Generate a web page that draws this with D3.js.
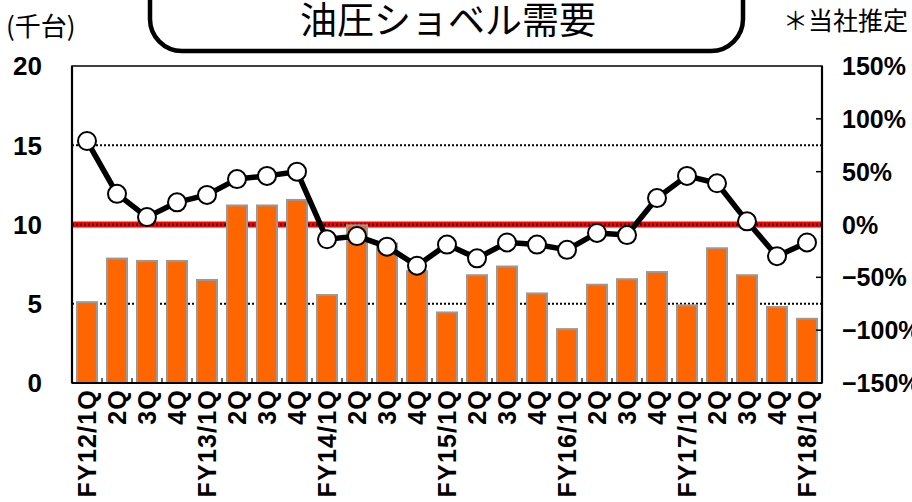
<!DOCTYPE html>
<html>
<head>
<meta charset="utf-8">
<script src="https://cdn.jsdelivr.net/npm/d3@7"></script>
<style>
  html, body { margin: 0; padding: 0; background: #fff; }
  svg { display: block; }
  .num { font-family: "Liberation Sans", Arial, sans-serif; font-weight: bold; font-size: 25px; fill: #000; }
  .jp { font-family: "Noto Sans CJK JP", sans-serif; fill: #000; }
</style>
</head>
<body>
<svg id="chart" width="912" height="502"></svg>
<script>
// ---- data ----
const categories = [
  "FY12/1Q","2Q","3Q","4Q",
  "FY13/1Q","2Q","3Q","4Q",
  "FY14/1Q","2Q","3Q","4Q",
  "FY15/1Q","2Q","3Q","4Q",
  "FY16/1Q","2Q","3Q","4Q",
  "FY17/1Q","2Q","3Q","4Q",
  "FY18/1Q"
];
// demand (thousand units)
const demand = [
  5.1, 7.85, 7.7, 7.7,
  6.5, 11.2, 11.2, 11.55,
  5.55, 9.95, 8.8, 7.05,
  4.45, 6.8, 7.35, 5.65,
  3.4, 6.2, 6.55, 7.0,
  4.9, 8.5, 6.8, 4.8,
  4.05
];
// year-over-year change (%)
const yoy = [
  79, 29, 7, 21,
  28, 43, 46, 50,
  -14, -11, -21, -39,
  -19, -32, -17, -19,
  -24, -8, -10, 25,
  46, 39, 3, -30,
  -17
];
const leftTicks = [0, 5, 10, 15, 20];
const rightTicks = [150, 100, 50, 0, -50, -100, -150];
const gridValues = [5, 10, 15];
const titleText = "油圧ショベル需要";
const unitText = "(千台)";
const noteText = "＊当社推定";

// ---- layout ----
const svg = d3.select("#chart");
const L = 72, R = 822, T = 66, B = 383;

const x = d3.scaleBand().domain(d3.range(categories.length)).range([L, R]).paddingInner(1/3).paddingOuter(1/6);
const xOuter = d3.scaleBand().domain(d3.range(categories.length)).range([L, R]);
const yL = d3.scaleLinear().domain([0, 20]).range([B, T]);
const yR = d3.scaleLinear().domain([-150, 150]).range([B, T]);

// title box
svg.append("rect")
  .attr("x", 150).attr("y", -40).attr("width", 593).attr("height", 91)
  .attr("rx", 32).attr("ry", 32)
  .attr("fill", "#fff").attr("stroke", "#000").attr("stroke-width", 4.5);
svg.append("text").attr("class", "jp")
  .attr("x", 448).attr("y", 34).attr("text-anchor", "middle")
  .style("font-size", "37px").text(titleText);
svg.append("text").attr("class", "jp")
  .attr("x", 6).attr("y", 36).style("font-size", "26px").text(unitText);
svg.append("text").attr("class", "jp")
  .attr("x", 783).attr("y", 30).style("font-size", "25px").text(noteText);

// red zero line (right axis 0%)
svg.append("line")
  .attr("x1", L).attr("x2", R).attr("y1", yR(0)).attr("y2", yR(0))
  .attr("stroke", "#ff0000").attr("stroke-width", 6);

// dotted gridlines
svg.selectAll("line.grid").data(gridValues).enter().append("line")
  .attr("class", "grid")
  .attr("x1", L).attr("x2", R)
  .attr("y1", d => yL(d)).attr("y2", d => yL(d))
  .attr("stroke", "#000").attr("stroke-width", 2)
  .attr("stroke-dasharray", "2,2");

// bars
svg.selectAll("rect.bar").data(demand).enter().append("rect")
  .attr("class", "bar")
  .attr("x", (d, i) => x(i))
  .attr("width", x.bandwidth())
  .attr("y", d => yL(d))
  .attr("height", d => B - yL(d))
  .attr("fill", "#ff6600")
  .attr("stroke", "#999999").attr("stroke-width", 2);

// x ticks (band boundaries, pointing inward)
const bounds = d3.range(1, categories.length).map(i => xOuter(i));
svg.selectAll("line.xt").data(bounds).enter().append("line")
  .attr("x1", d => d).attr("x2", d => d)
  .attr("y1", B).attr("y2", B - 5)
  .attr("stroke", "#000").attr("stroke-width", 1.2);

// frame
svg.append("rect")
  .attr("x", L).attr("y", T).attr("width", R - L).attr("height", B - T)
  .attr("fill", "none").attr("stroke", "#000").attr("stroke-width", 1.5);
svg.append("line").attr("x1", L).attr("x2", L).attr("y1", T).attr("y2", B)
  .attr("stroke", "#000").attr("stroke-width", 2.2);
svg.append("line").attr("x1", R).attr("x2", R).attr("y1", T).attr("y2", B)
  .attr("stroke", "#000").attr("stroke-width", 2.2);
svg.append("line").attr("x1", L).attr("x2", R).attr("y1", B).attr("y2", B)
  .attr("stroke", "#000").attr("stroke-width", 2.2);

// right axis inward ticks
svg.selectAll("line.rt").data(rightTicks.filter(d => d !== 150 && d !== -150 && d !== 0)).enter().append("line")
  .attr("x1", R).attr("x2", R - 6)
  .attr("y1", d => yR(d)).attr("y2", d => yR(d))
  .attr("stroke", "#000").attr("stroke-width", 1.5);

// line series
const lineGen = d3.line().x((d, i) => xOuter(i) + xOuter.bandwidth() / 2).y(d => yR(d));
svg.append("path").datum(yoy)
  .attr("d", lineGen)
  .attr("fill", "none").attr("stroke", "#000").attr("stroke-width", 5.5)
  .attr("stroke-linejoin", "round");
svg.selectAll("circle.pt").data(yoy).enter().append("circle")
  .attr("cx", (d, i) => xOuter(i) + xOuter.bandwidth() / 2)
  .attr("cy", d => yR(d))
  .attr("r", 9)
  .attr("fill", "#fff").attr("stroke", "#000").attr("stroke-width", 2);

// left axis labels
svg.selectAll("text.ly").data(leftTicks).enter().append("text")
  .attr("class", "num")
  .attr("x", 42).attr("y", d => yL(d)).attr("dy", "0.36em")
  .attr("text-anchor", "end")
  .style("font-size", "26px")
  .text(d => d);

// right axis labels
svg.selectAll("text.ry").data(rightTicks).enter().append("text")
  .attr("class", "num")
  .attr("x", 842).attr("y", d => yR(d)).attr("dy", "0.36em")
  .attr("text-anchor", "start")
  .text(d => (d < 0 ? "\u2212" + Math.abs(d) : d) + "%");

// x labels (rotated)
svg.selectAll("text.xl").data(categories).enter().append("text")
  .attr("class", "num")
  .attr("transform", (d, i) => `translate(${xOuter(i) + xOuter.bandwidth() / 2},389) rotate(-90)`)
  .attr("dy", "0.36em")
  .attr("text-anchor", "end")
  .style("letter-spacing", "1.2px")
  .text(d => d);
</script>
</body>
</html>
